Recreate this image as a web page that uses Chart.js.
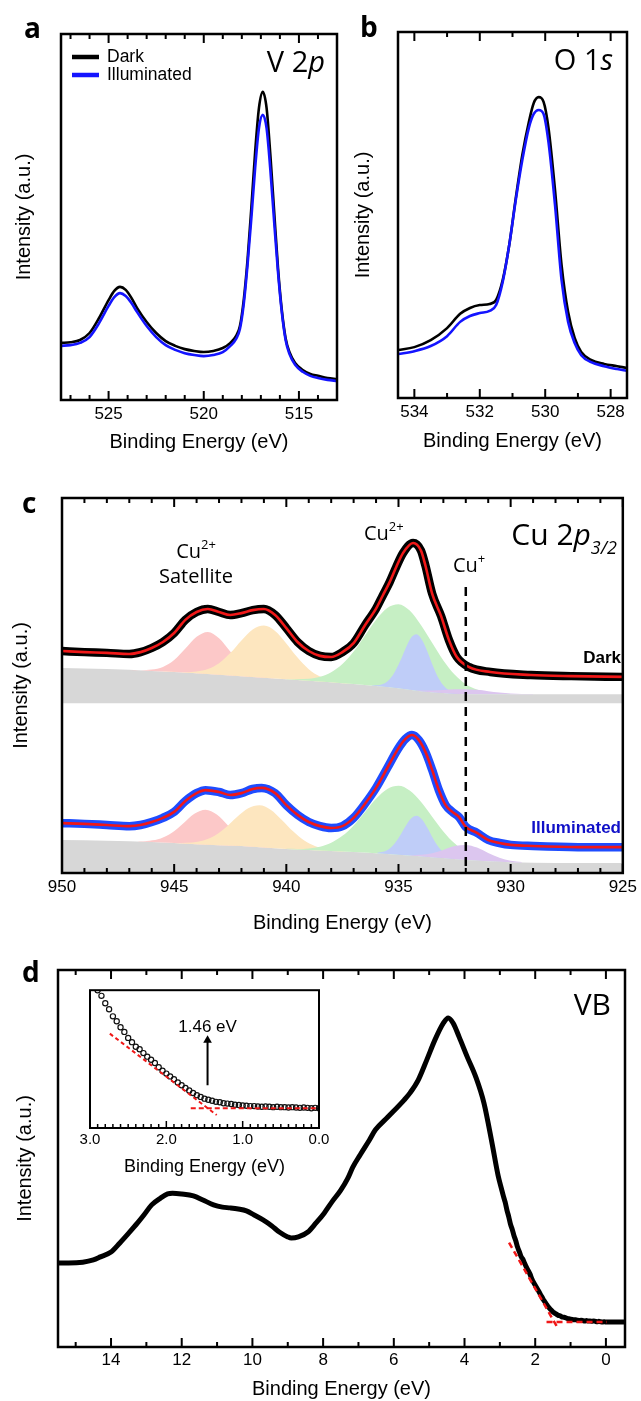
<!DOCTYPE html>
<html>
<head>
<meta charset="utf-8">
<script src="https://cdn.jsdelivr.net/npm/chart.js@4.4.1/dist/chart.umd.min.js"></script>
<style>
html, body { margin: 0; padding: 0; background: #fff; overflow: hidden; }
body { width: 641px; height: 1401px; position: relative; }
.pn { position: absolute; }
</style>
</head>
<body>
<div class="pn" style="left:0;top:0;width:345px;height:460px"><canvas id="ca"></canvas></div>
<div class="pn" style="left:345px;top:0;width:296px;height:460px"><canvas id="cb"></canvas></div>
<div class="pn" style="left:0;top:470px;width:641px;height:470px"><canvas id="cc"></canvas></div>
<div class="pn" style="left:0;top:930px;width:641px;height:471px"><canvas id="cd"></canvas></div>
<div class="pn" style="left:60px;top:985px;width:280px;height:195px"><canvas id="ci"></canvas></div>
<script>
// ---- a: V 2p ----
var vE = [527.5, 527, 526.5, 526, 525.5, 525, 524.7, 524.4, 524.1, 523.8, 523.5, 523, 522.5, 522, 521.5, 521, 520.5, 520, 519.5, 519,
          518.6, 518.3, 518.1, 517.9, 517.7, 517.5, 517.3, 517.1, 516.9, 516.7, 516.5, 516.3, 516.1, 515.9, 515.7, 515.5, 515.2, 514.8, 514.4, 514, 513.5, 513];
var vDark = [15.6, 15.8, 16.4, 18.3, 22.4, 27.3, 29.8, 30.9, 30.1, 27.9, 25.1, 21.3, 18.3, 16.1, 14.8, 13.9, 13.4, 13.1, 13.4, 14.2,
             15.6, 17.5, 20.2, 27.3, 38.3, 52.5, 67.8, 79.8, 84.2, 79.8, 66.9, 51.4, 36.1, 24.6, 16.9, 13.1, 10.1, 8.2, 7.1, 6.6, 6.0, 5.7];
var vIllum = [14.8, 15.0, 15.6, 17.2, 21.0, 25.7, 28.1, 29.2, 28.4, 26.5, 24.0, 20.2, 17.2, 15.0, 13.7, 12.8, 12.3, 12.0, 12.3, 13.1,
              14.8, 16.7, 19.4, 26.2, 36.9, 49.7, 63.4, 74.3, 77.9, 74.3, 62.8, 48.6, 35.0, 24.0, 16.4, 12.6, 9.6, 7.7, 6.6, 6.0, 5.5, 5.2];
var ticksA = [525, 520, 515];

// ---- b: O 1s ----
var oE = [534.5, 534, 533.5, 533, 532.6, 532.3, 532, 531.7, 531.5, 531.3, 531.1, 530.9, 530.7, 530.5, 530.35, 530.2, 530.05, 529.9,
          529.7, 529.5, 529.3, 529.1, 528.9, 528.6, 528.2, 527.8, 527.5];
var oDark = [13.1, 13.9, 15.8, 19.1, 23.0, 24.6, 25.4, 25.7, 26.8, 32.2, 41.8, 54.6, 66.4, 75.4, 80.6, 82.2, 80.9, 73.8,
             56.8, 36.3, 23.5, 16.4, 12.6, 10.4, 9.3, 8.7, 8.2];
var oIllum = [12.0, 12.8, 14.2, 16.9, 20.8, 22.4, 23.2, 23.8, 25.4, 31.7, 41.8, 54.1, 65.0, 73.8, 77.6, 78.7, 77.6, 69.9,
              52.7, 32.2, 20.8, 15.0, 11.7, 9.8, 8.7, 7.9, 7.4];
var ticksB = [534, 532, 530, 528];

// ---- c: Cu 2p3/2 ----
var cuDarkE = [950, 949, 948, 947, 946.5, 946, 945.5, 945, 944.5, 944, 943.5, 943, 942.5, 942, 941.5, 941, 940.5, 940, 939.5, 939,
               938.5, 938, 937.5, 937, 936.5, 936, 935.7, 935.4, 935.1, 934.8, 934.35, 934, 933.8, 933.5, 933.1, 932.75, 932.4, 931.85,
               930.9, 929.1, 927.3, 925];
var cuDark = [59.2, 58.9, 58.7, 58.4, 58.9, 60.0, 61.6, 64.0, 67.5, 69.6, 70.4, 69.6, 68.8, 69.3, 70.1, 70.4, 68.8, 65.3, 61.6, 59.2,
              57.9, 57.6, 58.9, 61.3, 66.0, 70.5, 74.0, 77.5, 81.6, 85.3, 88.0, 86.0, 82.0, 74.5, 68.5, 62.1, 57.6, 54.9,
              53.6, 52.8, 52.5, 52.3];
var cuIllumE = [950, 949, 948, 947, 946.5, 946, 945.5, 945, 944.5, 944, 943.6, 943, 942.5, 942, 941.5, 941.1, 940.5, 940, 939.5, 939,
                938.5, 938, 937.5, 937, 936.5, 936, 935.5, 935, 934.7, 934.4, 934.1, 933.8, 933.5, 933.2, 932.9, 932.6, 932.3, 932,
                931.5, 931, 930.5, 930, 929, 927, 925];
var cuIllum = [13.3, 13.1, 12.8, 12.5, 12.8, 13.6, 14.7, 16.3, 19.2, 21.3, 22.1, 21.6, 20.8, 21.3, 22.4, 22.7, 21.3, 18.1, 15.5, 13.6,
               12.5, 12.0, 12.5, 14.7, 18.4, 22.7, 28.0, 33.3, 35.7, 36.8, 35.5, 32.3, 27.5, 22.1, 18.1, 16.3, 14.9, 12.3,
               10.7, 8.8, 8.0, 7.5, 7.2, 6.9, 6.9];
// Shirley backgrounds
var bgE = [950, 948, 946, 944, 942, 940, 938, 937, 936, 935, 934, 933, 932, 930, 928, 925];
var bgDark = [54.7, 54.4, 53.9, 53.3, 52.5, 51.7, 50.9, 50.4, 49.9, 49.3, 48.5, 48.0, 47.7, 47.7, 47.7, 47.7];
var bgIllum = [8.8, 8.6, 8.3, 7.7, 7.2, 6.4, 5.9, 5.6, 5.3, 4.9, 4.5, 4.0, 3.5, 2.9, 2.7, 2.7];
var bgDarkFloor = 45.3;
// fitted components, dark
var pinkDE = [947, 946.5, 946, 945.5, 945, 944.5, 944, 943.5, 943, 942.5, 942, 941.5, 941, 940.5];
var pinkD = [54.15, 54.05, 54.25, 54.95, 56.8, 59.85, 63.0, 64.3, 62.6, 59.1, 55.7, 53.5, 52.45, 51.9];
var orangeDE = [945.5, 945, 944.5, 944, 943.5, 943, 942.5, 942, 941.5, 941, 940.5, 940, 939.5, 939, 938.5, 938, 937.5, 937];
var orangeD = [53.75, 53.63, 53.59, 53.76, 54.4, 55.96, 58.64, 62.02, 64.95, 66.0, 64.55, 61.22, 57.44, 54.36, 52.4, 51.36, 50.79, 50.43];
var greenDE = [940, 939.5, 939, 938.5, 938, 937.5, 937, 936.5, 936, 935.5, 935, 934.5, 934, 933.5, 933, 932.5, 932, 931.5, 931, 930.5, 930];
var greenD = [51.76, 51.68, 51.8, 52.32, 53.54, 55.71, 59.05, 63.28, 67.55, 70.7, 71.7, 70.0, 66.15, 61.38, 56.65, 52.91, 50.34, 48.92, 48.2, 47.88, 47.76];
var blueDE = [936.2, 935.95, 935.7, 935.45, 935.2, 934.95, 934.7, 934.45, 934.2, 933.95, 933.7, 933.45, 933.2, 932.95, 932.7, 932.45, 932.2];
var blueD = [50.06, 50.06, 50.41, 51.36, 53.3, 56.17, 59.7, 62.66, 63.65, 62.16, 58.9, 55.02, 51.8, 49.71, 48.56, 48.01, 47.81];
var purpleDE = [934.5, 934, 933.5, 933, 932.5, 932, 931.5, 931, 930.5, 930, 929.5, 929];
var purpleD = [48.9, 48.68, 48.67, 48.79, 49.0, 49.0, 48.85, 48.49, 48.12, 47.88, 47.76, 47.72];
// fitted components, illuminated
var pinkIE = [946.6, 946.1, 945.6, 945.1, 944.6, 944.1, 943.6, 943.1, 942.6, 942.1, 941.6, 941.1, 940.6];
var pinkI = [8.45, 8.6, 9.19, 10.71, 13.23, 15.82, 16.9, 15.57, 12.7, 9.91, 8.05, 7.13, 6.71];
var orangeIE = [945.2, 944.7, 944.2, 943.7, 943.2, 942.7, 942.2, 941.7, 941.2, 940.7, 940.2, 939.7, 939.2, 938.7, 938.2, 937.7, 937.2];
var orangeI = [8.09, 8.02, 8.12, 8.68, 9.96, 12.16, 14.92, 17.27, 18.08, 16.87, 14.15, 11.11, 8.66, 7.13, 6.32, 5.92, 5.69];
var greenIE = [940, 939.5, 939, 938.5, 938, 937.5, 937, 936.5, 936, 935.5, 935, 934.5, 934, 933.5, 933, 932.5, 932, 931.5, 931, 930.5, 930];
var greenI = [6.45, 6.43, 6.56, 7.03, 8.07, 9.91, 12.7, 16.23, 19.8, 22.43, 23.3, 22.03, 19.0, 15.03, 11.1, 7.91, 5.67, 4.35, 3.61, 3.2, 2.95];
var blueIE = [935.95, 935.7, 935.45, 935.2, 934.95, 934.7, 934.45, 934.2, 933.95, 933.7, 933.45, 933.2, 932.95, 932.7, 932.45, 932.2];
var blueI = [5.43, 5.65, 6.3, 7.66, 9.78, 12.34, 14.49, 15.28, 14.29, 11.91, 9.13, 6.78, 5.2, 4.32, 3.88, 3.62];
var purpleIE = [934.5, 934, 933.5, 933, 932.5, 932, 931.5, 931, 930.5, 930, 929.5];
var purpleI = [4.78, 4.84, 5.25, 6.16, 7.18, 7.5, 6.78, 5.36, 4.05, 3.24, 2.93];
var cuPlusE = [932, 932];
var cuPlusY = [76.3, 0];
var ticksC = [950, 945, 940, 935, 930, 925];

// ---- d: valence band ----
var vbE = [15.5, 15.2, 14.8, 14.5, 14.3, 14.0, 13.75, 13.5, 13.25, 13.07, 12.85, 12.6, 12.4, 12.26, 12.0, 11.67, 11.4, 11.1, 10.85, 10.63,
           10.4, 10.17, 9.95, 9.7, 9.45, 9.24, 9.0, 8.9, 8.7, 8.43, 8.2, 7.97, 7.75, 7.5, 7.3, 7.16, 6.95, 6.69, 6.52, 6.17,
           5.71, 5.54, 5.31, 5.07, 4.84, 4.6, 4.46, 4.32, 4.15, 3.92, 3.68, 3.45, 3.22, 3.05];
var vb = [22.3, 22.3, 22.5, 23.1, 23.9, 25.2, 27.6, 30.2, 32.9, 35.0, 37.7, 39.5, 40.6, 40.8, 40.6, 40.1, 39.0, 37.7, 37.1, 36.9,
          36.6, 36.1, 35.0, 33.7, 32.1, 30.5, 29.2, 28.9, 29.2, 30.5, 32.9, 35.5, 38.5, 41.6, 44.8, 47.7, 51.0, 54.9, 57.6, 61.0,
          65.5, 67.4, 70.8, 76.1, 81.4, 85.9, 87.3, 85.9, 82.2, 76.9, 71.6, 64.7, 54.0, 45.5];
// band edge (also the inset)
var edgeE = [2.95, 2.9, 2.85, 2.8, 2.75, 2.7, 2.65, 2.6, 2.55, 2.5, 2.45, 2.4, 2.35, 2.3, 2.25, 2.2, 2.15, 2.1, 2.05, 2.0,
             1.95, 1.9, 1.85, 1.8, 1.75, 1.7, 1.65, 1.6, 1.55, 1.5, 1.45, 1.4, 1.35, 1.3, 1.25, 1.2, 1.15, 1.1, 1.05, 1.0,
             0.95, 0.9, 0.85, 0.8, 0.75, 0.7, 0.65, 0.6, 0.55, 0.5, 0.45, 0.4, 0.35, 0.3, 0.25, 0.2, 0.15, 0.1, 0.05, 0.0];
var edge = [41.8, 40.0, 38.4, 36.3, 34.6, 32.6, 31.2, 29.5, 28.2, 26.5, 25.3, 24.0, 23.3, 22.2, 21.2, 20.3, 19.4, 18.2, 17.2, 16.4,
            15.6, 14.8, 13.9, 13.1, 12.3, 11.6, 10.9, 10.3, 9.8, 9.3, 9.0, 8.7, 8.4, 8.3, 8.0, 7.9, 7.8, 7.6, 7.5, 7.4,
            7.3, 7.2, 7.2, 7.1, 7.0, 7.1, 7.0, 6.9, 7.0, 6.9, 6.9, 6.8, 6.9, 6.8, 6.7, 6.8, 6.7, 6.6, 6.7, 6.6];
var tailE = [-0.25, -0.54];
var tail = [6.6, 6.6];
var slopeE = [2.74, 1.34];
var slopeY = [27.7, 4.66];
var flatE = [1.68, -0.03];
var flatY = [6.6, 6.6];
var arrowE = [1.46, 1.46];
var arrowY = [13.1, 25.8];
var ticksD = [14, 12, 10, 8, 6, 4, 2, 0];
var ticksIn = [3, 2, 1, 0];

// ---------------------------------------------------------------
Chart.defaults.font.family = 'Liberation Sans';
Chart.defaults.color = '#000';

var pts = function (xs, ys) { return xs.map(function (x, i) { return {x: x, y: ys[i]}; }); };
var OS = '"Open Sans"';
var RED = '#f01818';

function line(xs, ys, color, w, extra) {
  return Object.assign({
    data: pts(xs, ys), borderColor: color, borderWidth: w, pointRadius: 0,
    fill: false, borderJoinStyle: 'round', borderCapStyle: 'round'
  }, extra || {});
}
function smooth(xs, ys, color, w, order) {
  return line(xs, ys, color, w, {order: order, cubicInterpolationMode: 'monotone'});
}
function area(xs, ys, color, target, order) {
  return {
    data: pts(xs, ys), borderWidth: 0, borderColor: 'rgba(0,0,0,0)', backgroundColor: color,
    pointRadius: 0, fill: target, order: order, cubicInterpolationMode: 'monotone'
  };
}

// inward ticks + frame
function framePlugin(f) {
  return {
    id: 'frame',
    afterDraw: function (chart) {
      var ctx = chart.ctx, a = chart.chartArea, x = chart.scales.x;
      ctx.save();
      ctx.strokeStyle = '#000';
      ctx.lineWidth = f.tw;
      var lo = Math.min(x.min, x.max), hi = Math.max(x.min, x.max);
      for (var k = Math.ceil(lo / f.minor - 1e-6); k * f.minor <= hi + 1e-9; k++) {
        var v = k * f.minor;
        var r = v / f.major;
        var len = Math.abs(r - Math.round(r)) < 1e-6 ? f.majLen : f.minLen;
        var px = x.getPixelForValue(v);
        ctx.beginPath();
        ctx.moveTo(px, a.bottom); ctx.lineTo(px, a.bottom - len);
        if (f.top) { ctx.moveTo(px, a.top); ctx.lineTo(px, a.top + len); }
        ctx.stroke();
      }
      ctx.lineWidth = f.lw;
      ctx.strokeRect(a.left, a.top, a.right - a.left, a.bottom - a.top);
      ctx.restore();
    }
  };
}

// free text and legend marks
function notesPlugin(items) {
  return {
    id: 'notes',
    afterDraw: function (chart) {
      var ctx = chart.ctx;
      items.forEach(function (it) {
        ctx.save();
        if (it.mark) {
          ctx.strokeStyle = it.color; ctx.lineWidth = it.w;
          ctx.beginPath(); ctx.moveTo(it.mark[0], it.mark[2]); ctx.lineTo(it.mark[1], it.mark[2]); ctx.stroke();
          ctx.restore();
          return;
        }
        var x = it.xv !== undefined ? chart.scales.x.getPixelForValue(it.xv) : it.x;
        var y = it.y;
        var w = 0;
        it.parts.forEach(function (p) { ctx.font = p.f; w += ctx.measureText(p.t).width; });
        var cx = it.align === 'right' ? x - w : (it.align === 'center' ? x - w / 2 : x);
        ctx.fillStyle = it.color || '#000';
        ctx.textBaseline = it.base || 'alphabetic';
        it.parts.forEach(function (p) {
          ctx.font = p.f;
          ctx.fillText(p.t, cx, y + (p.dy || 0));
          cx += ctx.measureText(p.t).width;
        });
        ctx.restore();
      });
    }
  };
}

function makeChart(id, datasets, o) {
  return new Chart(document.getElementById(id), {
    type: 'line',
    data: {datasets: datasets},
    options: {
      responsive: true, maintainAspectRatio: false, animation: false, devicePixelRatio: 1,
      events: [],
      layout: {padding: o.pad},
      plugins: {legend: {display: false}, tooltip: {enabled: false}},
      elements: {line: {tension: 0}},
      scales: {
        x: {
          type: 'linear', reverse: true, min: o.xmin, max: o.xmax,
          afterBuildTicks: function (s) { s.ticks = o.ticks.map(function (v) { return {value: v}; }); },
          afterFit: function (s) { s.height = o.xh; },
          grid: {display: false, drawTicks: false}, border: {display: false},
          ticks: {padding: o.tp, maxRotation: 0, autoSkip: false, font: {size: o.tf}, color: '#000',
                  callback: o.fmt || function (v) { return String(v); }},
          title: {display: true, text: 'Binding Energy (eV)', font: {size: o.ttf}, color: '#000',
                  padding: {top: 0, bottom: o.tpb}}
        },
        y: {
          type: 'linear', min: o.ymin, max: o.ymax, display: !!o.ytitle,
          afterFit: function (s) { s.width = o.yw || 0; },
          grid: {display: false, drawTicks: false}, border: {display: false},
          ticks: {display: false},
          title: {display: !!o.ytitle, text: o.ytitle, font: {size: 20}, color: '#000',
                  padding: {top: o.ypt || 0, bottom: 0}}
        }
      }
    },
    plugins: [framePlugin(o.frame), notesPlugin(o.notes)]
  });
}

var LEG = '17.5px "Liberation Sans"';
var BLUE = '#1414ff';

// ---- panel a ----
makeChart('ca', [
  smooth(vE, vIllum, BLUE, 2.6, 1),
  smooth(vE, vDark, '#000', 2.6, 2)
], {
  pad: {left: 0, top: 34, right: 8, bottom: 0}, xmin: 513, xmax: 527.5, ticks: ticksA,
  xh: 60, tp: 4, tf: 17, ttf: 20, tpb: 6, ymin: 0, ymax: 100,
  ytitle: 'Intensity (a.u.)', yw: 61, ypt: 12,
  frame: {major: 5, minor: 1, majLen: 9, minLen: 5, top: true, lw: 2.5, tw: 2},
  notes: [
    {x: 24, y: 38, parts: [{t: 'a', f: 'bold 28px ' + OS}]},
    {mark: [72, 99, 57], color: '#000', w: 4.5},
    {mark: [72, 99, 75], color: BLUE, w: 4.5},
    {x: 107, y: 57, base: 'middle', parts: [{t: 'Dark', f: LEG}]},
    {x: 107, y: 75, base: 'middle', parts: [{t: 'Illuminated', f: LEG}]},
    {x: 325, y: 72, align: 'right', parts: [{t: 'V 2', f: '29px ' + OS}, {t: 'p', f: 'italic 29px ' + OS}]}
  ]
});

// ---- panel b ----
makeChart('cb', [
  smooth(oE, oIllum, BLUE, 2.6, 1),
  smooth(oE, oDark, '#000', 2.6, 2)
], {
  pad: {left: 0, top: 32, right: 14, bottom: 0}, xmin: 527.5, xmax: 534.5, ticks: ticksB,
  xh: 62, tp: 4, tf: 17, ttf: 20, tpb: 7, ymin: 0, ymax: 100,
  ytitle: 'Intensity (a.u.)', yw: 53, ypt: 6,
  frame: {major: 2, minor: 1, majLen: 9, minLen: 5, top: true, lw: 2.5, tw: 2},
  notes: [
    {x: 15, y: 37, parts: [{t: 'b', f: 'bold 28px ' + OS}]},
    {x: 268, y: 70, align: 'right', parts: [{t: 'O 1', f: '29px ' + OS}, {t: 's', f: 'italic 29px ' + OS}]}
  ]
});

// ---- panel c ----
var PINK = '#fcc8c8', ORANGE = '#fde6bf', GREEN = '#c6efc4', LBLUE = '#bfcdf8', PURPLE = '#dcc6ef', GRAY = '#d7d7d7';
var cSets = [
  smooth(cuDarkE, cuDark, RED, 2.6, 1),                   // 0
  smooth(cuDarkE, cuDark, '#000', 8.5, 4),                // 1
  smooth(cuIllumE, cuIllum, RED, 2.6, 1),                 // 2
  smooth(cuIllumE, cuIllum, '#1e4cff', 8.5, 4),           // 3
  line(cuPlusE, cuPlusY, '#000', 2.5, {order: 0, borderDash: [9, 6], borderCapStyle: 'butt'}), // 4
  area(bgE, bgDark, GRAY, {value: bgDarkFloor}, 30),      // 5
  area(pinkDE, pinkD, PINK, 5, 25),
  area(orangeDE, orangeD, ORANGE, 5, 24),
  area(greenDE, greenD, GREEN, 5, 23),
  area(blueDE, blueD, LBLUE, 5, 22),
  area(purpleDE, purpleD, PURPLE, 5, 21),
  area(bgE, bgIllum, GRAY, 'origin', 30),                 // 11
  area(pinkIE, pinkI, PINK, 11, 25),
  area(orangeIE, orangeI, ORANGE, 11, 24),
  area(greenIE, greenI, GREEN, 11, 23),
  area(blueIE, blueI, LBLUE, 11, 22),
  area(purpleIE, purpleI, PURPLE, 11, 21)
];
var CUF = '20px ' + OS, SUP = '13px ' + OS;
makeChart('cc', cSets, {
  pad: {left: 0, top: 28, right: 15, bottom: 0}, xmin: 925, xmax: 950, ticks: ticksC,
  xh: 67, tp: 4, tf: 17, ttf: 20, tpb: 5, ymin: 0, ymax: 100,
  ytitle: 'Intensity (a.u.)', yw: 62, ypt: 9,
  frame: {major: 5, minor: 1, majLen: 9, minLen: 5, top: true, lw: 2.5, tw: 2},
  notes: [
    {x: 22, y: 43, parts: [{t: 'c', f: 'bold 28px ' + OS}]},
    {x: 196, y: 88, align: 'center', parts: [{t: 'Cu', f: CUF}, {t: '2+', f: SUP, dy: -9}]},
    {x: 196, y: 113, align: 'center', parts: [{t: 'Satellite', f: CUF}]},
    {x: 364, y: 70, parts: [{t: 'Cu', f: CUF}, {t: '2+', f: SUP, dy: -9}]},
    {x: 453, y: 102, parts: [{t: 'Cu', f: CUF}, {t: '+', f: SUP, dy: -9}]},
    {x: 617, y: 75, align: 'right', parts: [{t: 'Cu 2', f: '30px ' + OS}, {t: 'p', f: 'italic 30px ' + OS},
                                             {t: '3/2', f: 'italic 18px ' + OS, dy: 9}]},
    {x: 621, y: 193, align: 'right', parts: [{t: 'Dark', f: 'bold 17px "Liberation Sans"'}]},
    {x: 621, y: 363, align: 'right', color: '#1010c8', parts: [{t: 'Illuminated', f: 'bold 17px "Liberation Sans"'}]}
  ]
});

// ---- panel d ----
makeChart('cd', [
  line(slopeE, slopeY, RED, 2.5, {order: 0, borderDash: [6, 4], borderCapStyle: 'butt'}),
  line(flatE, flatY, RED, 2.5, {order: 0, borderDash: [6, 4], borderCapStyle: 'butt'}),
  smooth(vbE.concat(edgeE, tailE), vb.concat(edge, tail), '#000', 5, 1)
], {
  pad: {left: 0, top: 40, right: 16, bottom: 0}, xmin: -0.54, xmax: 15.5, ticks: ticksD,
  xh: 54, tp: 3, tf: 17, ttf: 20, tpb: 0, ymin: 0, ymax: 100,
  ytitle: 'Intensity (a.u.)', yw: 58, ypt: 13,
  frame: {major: 2, minor: 1, majLen: 9, minLen: 5, top: true, lw: 2.5, tw: 2},
  notes: [
    {x: 22, y: 52, parts: [{t: 'd', f: 'bold 28px ' + OS}]},
    {x: 611, y: 85, align: 'right', parts: [{t: 'VB', f: '30px ' + OS}]}
  ]
});

// ---- inset ----
makeChart('ci', [
  line(arrowE, arrowY, '#000', 2, {order: 0, pointRadius: [0, 5], pointStyle: 'triangle',
                                   pointBackgroundColor: '#000', pointBorderWidth: 0, borderCapStyle: 'butt'}),
  line(slopeE, slopeY, RED, 2, {order: 1, borderDash: [4, 3], borderCapStyle: 'butt'}),
  line(flatE, flatY, RED, 2, {order: 1, borderDash: [5, 3], borderCapStyle: 'butt'}),
  {data: pts(edgeE, edge), showLine: false, pointRadius: 2.6, pointBorderWidth: 1.2,
   pointBorderColor: '#111', pointBackgroundColor: 'rgba(255,255,255,0)', order: 2}
], {
  pad: {left: 30, top: 5, right: 21, bottom: 0}, xmin: 0, xmax: 3, ticks: ticksIn,
  xh: 52, tp: 3, tf: 15, ttf: 18, tpb: 2, ymin: 1, ymax: 40,
  fmt: function (v) { return v.toFixed(1); },
  frame: {major: 1, minor: 0.1, majLen: 7, minLen: 4, top: false, lw: 2, tw: 1.5},
  notes: [
    {xv: 1.46, y: 47, align: 'center', parts: [{t: '1.46 eV', f: '17px "Liberation Sans"'}]}
  ]
});
</script>
</body>
</html>
